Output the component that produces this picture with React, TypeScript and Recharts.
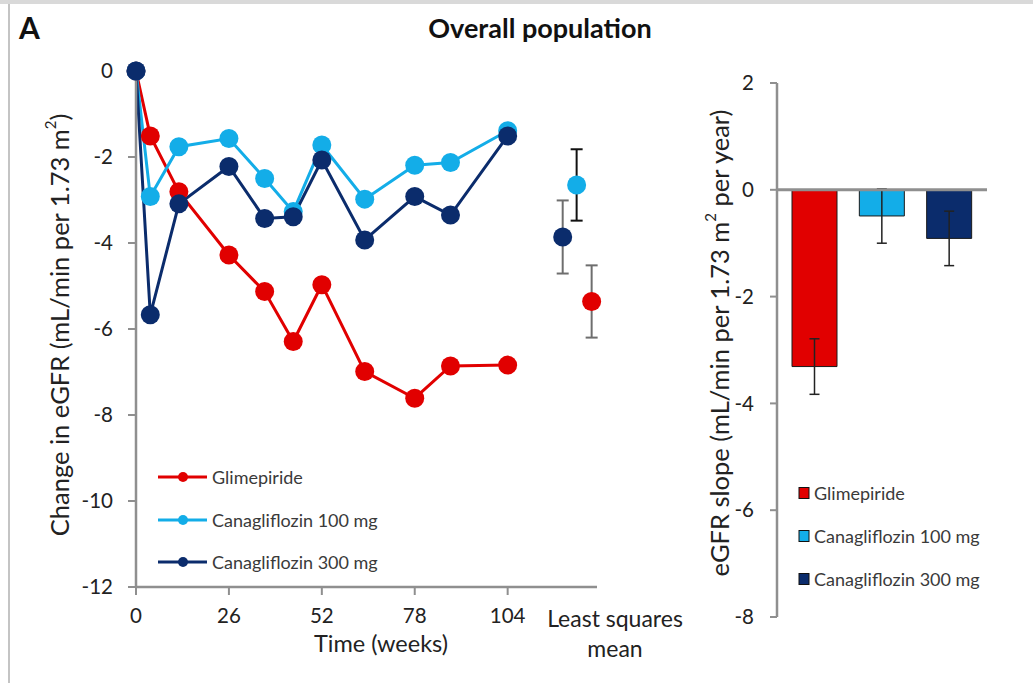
import React from 'react';
import {
  ComposedChart,
  Line,
  Scatter,
  XAxis,
  YAxis,
  ErrorBar,
  BarChart,
  Bar,
  Cell,
  ReferenceLine,
  Legend,
} from 'recharts';

// ---- data ----
const weeks = [0, 4, 12, 26, 36, 44, 52, 64, 78, 88, 104];
const glimepiride = [0, -1.51, -2.81, -4.28, -5.13, -6.29, -4.97, -6.99, -7.61, -6.86, -6.84];
const cana100 = [0, -2.92, -1.76, -1.57, -2.5, -3.27, -1.72, -2.98, -2.19, -2.13, -1.39];
const cana300 = [0, -5.67, -3.09, -2.22, -3.43, -3.39, -2.07, -3.93, -2.92, -3.35, -1.51];

const seriesNames = ['Glimepiride', 'Canagliflozin 100 mg', 'Canagliflozin 300 mg'];
const seriesKeys = ['glim', 'c100', 'c300'];
const seriesColors = ['#e10000', '#13ade8', '#0b2c6c'];

// least squares mean (placed to the right of week 104)
const lsmX = [127.5, 123.3, 119.4];
const lsmMean = [-5.36, -2.65, -3.86];
const lsmErr = [0.84, 0.83, 0.85];

// eGFR slope
const slopeMean = [-3.31, -0.49, -0.91];
const slopeErr = [0.52, 0.51, 0.51];

const xTicks = [0, 26, 52, 78, 104];
const yTicksLeft = [0, -2, -4, -6, -8, -10, -12];
const yTicksRight = [2, 0, -2, -4, -6, -8];

const lineTable = weeks.map((w, i) => ({
  week: w,
  glim: glimepiride[i],
  c100: cana100[i],
  c300: cana300[i],
}));

const lsmTables = seriesNames.map((_, i) => [
  { week: lsmX[i], value: lsmMean[i], err: lsmErr[i] },
]);

const slopeTable = seriesNames.map((n, i) => ({
  name: n,
  value: slopeMean[i],
  err: slopeErr[i],
}));

const FONT = 'Lato, "Open Sans", sans-serif';
const AXIS = '#8f8f8f';
const TXT = '#222';
const TICK_FS = 20.5;

const LineLegend = () => (
  <div style={{ fontFamily: FONT, fontSize: 18, color: '#3a3a3a' }}>
    {seriesNames.map((n, i) => (
      <div key={n} style={{ display: 'flex', alignItems: 'center', height: 42.5 }}>
        <svg width={54} height={14}>
          <line x1={0} y1={7} x2={49} y2={7} stroke={seriesColors[i]} strokeWidth={3} />
          <circle cx={25} cy={7} r={5} fill={seriesColors[i]} />
        </svg>
        <span>{n}</span>
      </div>
    ))}
  </div>
);

const BarLegend = () => (
  <div style={{ fontFamily: FONT, fontSize: 18, color: '#3a3a3a' }}>
    {seriesNames.map((n, i) => (
      <div key={n} style={{ display: 'flex', alignItems: 'center', height: 43 }}>
        <svg width={16} height={14}>
          <rect x={1} y={1.5} width={10} height={11} fill={seriesColors[i]} stroke="#111" strokeWidth={1} />
        </svg>
        <span>{n}</span>
      </div>
    ))}
  </div>
);

const LeftYLabel = () => {
  const cx = 59;
  const cy = 325;
  return (
    <text
      x={cx}
      y={cy}
      transform={`rotate(-90, ${cx}, ${cy})`}
      textAnchor="middle"
      dominantBaseline="central"
      fontFamily={FONT}
      fontSize={25.5}
      fill={TXT}
    >
      Change in eGFR (mL/min per 1.73 m
      <tspan fontSize={15} dy={-9}>2</tspan>
      <tspan dy={9}>)</tspan>
    </text>
  );
};

const RightYLabel = () => {
  const cx = 39;
  const cy = 343;
  return (
    <text
      x={cx}
      y={cy}
      transform={`rotate(-90, ${cx}, ${cy})`}
      textAnchor="middle"
      dominantBaseline="central"
      fontFamily={FONT}
      fontSize={25.5}
      fill={TXT}
    >
      eGFR slope (mL/min per 1.73 m
      <tspan fontSize={15} dy={-9}>2</tspan>
      <tspan dy={9}> per year)</tspan>
    </text>
  );
};

const makeDot = (color: string) => (p: any) => {
  if (p.cx == null || p.cy == null) return <g key={p.key} />;
  return <circle key={p.key} cx={p.cx} cy={p.cy} r={9.5} fill={color} />;
};

const makeScatterShape = (color: string) => (p: any) => (
  <circle cx={p.cx} cy={p.cy} r={9.5} fill={color} />
);

export default function App() {
  return (
    <div
      style={{
        position: 'absolute',
        left: 0,
        top: 0,
        width: 1033,
        height: 683,
        background: '#fff',
        overflow: 'hidden',
        fontFamily: FONT,
      }}
    >
      {/* frame */}
      <div style={{ position: 'absolute', left: 0, top: 0, width: 1033, height: 4, background: '#d9d9d9' }} />
      <div style={{ position: 'absolute', left: 8, top: 4, width: 2, height: 679, background: '#c4c4c4' }} />

      {/* titles */}
      <div style={{ position: 'absolute', left: 19, top: 9, fontSize: 30, fontWeight: 700, color: '#111' }}>A</div>
      <div
        style={{
          position: 'absolute',
          left: 360,
          width: 360,
          top: 11,
          textAlign: 'center',
          fontSize: 27,
          fontWeight: 700,
          color: '#111',
        }}
      >
        Overall population
      </div>

      {/* left chart */}
      <div style={{ position: 'absolute', left: 0, top: 0 }}>
        <ComposedChart
          width={700}
          height={683}
          data={lineTable}
          margin={{ top: 71, right: 103, bottom: 56, left: 76 }}
        >
          <XAxis
            type="number"
            dataKey="week"
            domain={[0, 129]}
            ticks={xTicks}
            interval={0}
            height={40}
            axisLine={{ stroke: AXIS, strokeWidth: 2.5 }}
            tickLine={{ stroke: AXIS, strokeWidth: 2 }}
            tickSize={8}
            tickMargin={13}
            tick={{ fill: TXT, fontSize: TICK_FS, fontFamily: FONT }}
          />
          <YAxis
            type="number"
            domain={[-12, 0]}
            ticks={yTicksLeft}
            interval={0}
            width={60}
            axisLine={{ stroke: AXIS, strokeWidth: 2.5 }}
            tickLine={{ stroke: AXIS, strokeWidth: 2 }}
            tickSize={8}
            tickMargin={15}
            tick={{ fill: TXT, fontSize: TICK_FS, fontFamily: FONT }}
            label={<LeftYLabel />}
          />
          {seriesKeys.map((k, i) => (
            <Line
              key={k}
              dataKey={k}
              name={seriesNames[i]}
              stroke={seriesColors[i]}
              strokeWidth={3}
              dot={makeDot(seriesColors[i])}
              activeDot={false}
              isAnimationActive={false}
              legendType="none"
            />
          ))}
          {seriesNames.map((n, i) => (
            <Scatter
              key={'lsm' + i}
              data={lsmTables[i]}
              dataKey="value"
              fill={seriesColors[i]}
              shape={makeScatterShape(seriesColors[i])}
              isAnimationActive={false}
              legendType="none"
            >
              <ErrorBar
                dataKey="err"
                direction="y"
                width={6}
                stroke={i === 1 ? '#111' : '#6e6e6e'}
                strokeWidth={2}
                isAnimationActive={false}
              />
            </Scatter>
          ))}
          <Legend
            layout="vertical"
            align="center"
            verticalAlign="middle"
            wrapperStyle={{ left: 158, top: 456, width: 280, height: 130 }}
            content={() => <LineLegend />}
          />
        </ComposedChart>
      </div>

      {/* Least squares mean label */}
      <div
        style={{
          position: 'absolute',
          left: 535,
          width: 160,
          top: 603,
          textAlign: 'center',
          fontSize: 23,
          lineHeight: '30px',
          color: TXT,
        }}
      >
        Least squares
        <br />
        mean
      </div>
      <div
        style={{
          position: 'absolute',
          left: 281,
          width: 200,
          top: 629,
          textAlign: 'center',
          fontSize: 23.5,
          color: TXT,
        }}
      >
        Time (weeks)
      </div>

      {/* right chart */}
      <div style={{ position: 'absolute', left: 680, top: 0 }}>
        <BarChart
          width={353}
          height={683}
          data={slopeTable}
          margin={{ top: 83, right: 46, bottom: 66, left: 47 }}
        >
          <XAxis dataKey="name" hide padding={{ left: 4, right: 4 }} />
          <YAxis
            type="number"
            domain={[-8, 2]}
            ticks={yTicksRight}
            interval={0}
            width={50}
            axisLine={{ stroke: AXIS, strokeWidth: 2.5 }}
            tickLine={{ stroke: AXIS, strokeWidth: 2 }}
            tickSize={7}
            tickMargin={16}
            tick={{ fill: TXT, fontSize: TICK_FS, fontFamily: FONT }}
            label={<RightYLabel />}
          />
          <Bar
            dataKey="value"
            barSize={45}
            stroke="#1a1a1a"
            strokeWidth={1}
            isAnimationActive={false}
          >
            {slopeTable.map((d, i) => (
              <Cell key={d.name} fill={seriesColors[i]} />
            ))}
            <ErrorBar dataKey="err" direction="y" width={5} stroke="#222" strokeWidth={1.5} />
          </Bar>
          <ReferenceLine y={0} stroke={AXIS} strokeWidth={3} />
          <Legend
            layout="vertical"
            align="center"
            verticalAlign="middle"
            wrapperStyle={{ left: 118, top: 471, width: 235, height: 130 }}
            content={() => <BarLegend />}
          />
        </BarChart>
      </div>
    </div>
  );
}
